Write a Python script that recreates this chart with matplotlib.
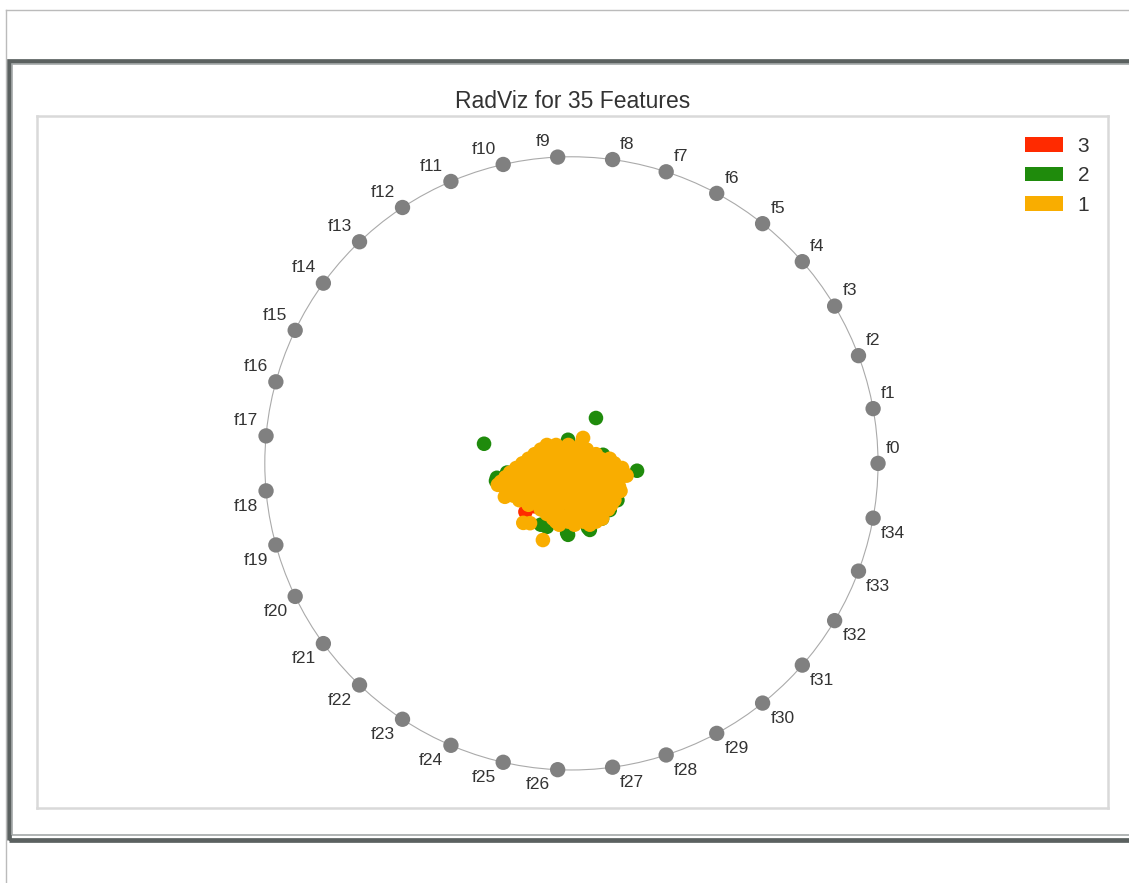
import numpy as np
import matplotlib
matplotlib.use("Agg")
import matplotlib.pyplot as plt
from matplotlib.patches import Circle, Patch, Rectangle
from matplotlib.lines import Line2D

plt.rcParams['font.family'] = ['Liberation Sans', 'DejaVu Sans']

# feature anchors
features = ['f%d' % i for i in range(35)]

# projected points per class (RadViz data coordinates)
class_names = ['3', '2', '1']
class_colors = ['#ff2a00', '#1f8b0c', '#f9ad00']

red_x = [-0.150, -0.047, -0.120, 0.010]
red_y = [-0.158, 0.054, -0.140, -0.100]

green_x = [-0.285, 0.080, 0.214, -0.011, -0.011, 0.054, -0.246, -0.140, -0.210,
           -0.243, 0.125, -0.080, 0.140, 0.103, -0.100, -0.014, 0.060, 0.030,
           -0.050, 0.100, -0.180, 0.150, 0.000]
green_y = [0.064, 0.148, -0.024, 0.077, -0.233, -0.210, -0.057, 0.005, -0.030,
           -0.047, -0.152, -0.207, -0.070, 0.028, -0.200, -0.227, -0.217, 0.040,
           0.020, -0.180, -0.020, -0.120, -0.150]

orange_x = [-0.08, -0.05, -0.01, 0.03,
            -0.12, -0.09, -0.04, 0.00, 0.04, 0.08,
            -0.16, -0.11, -0.06, -0.02, 0.03, 0.07, 0.11, 0.14,
            -0.20, -0.15, -0.10, -0.05, 0.00, 0.05, 0.09, 0.13, 0.17,
            -0.23, -0.18, -0.13, -0.08, -0.03, 0.02, 0.06, 0.10, 0.15,
            -0.21, -0.16, -0.11, -0.06, -0.01, 0.04, 0.08, 0.12, 0.16,
            -0.17, -0.12, -0.07, -0.02, 0.03, 0.07, 0.11, 0.14,
            -0.10, -0.05, 0.00, 0.05, 0.09, 0.12,
            -0.06, -0.02, 0.03, 0.07, 0.10,
            -0.04, 0.01, 0.06,
            -0.093, -0.157, -0.135, 0.038, 0.165, -0.240, -0.217, 0.180,
            -0.10, -0.065, -0.03, 0.01, 0.05,
            -0.14, -0.10, -0.065, -0.025, 0.015, 0.055, 0.095, 0.125,
            -0.18, -0.13, -0.085, -0.035, 0.015, 0.06, 0.10, 0.15,
            -0.215, -0.165, -0.115, -0.065, -0.015, 0.035, 0.08, 0.12, 0.16,
            -0.22, -0.17, -0.12, -0.07, -0.02, 0.03, 0.07, 0.11, 0.155,
            -0.19, -0.14, -0.09, -0.04, 0.01, 0.055, 0.095, 0.14,
            -0.14, -0.09, -0.04, 0.01, 0.055, 0.10, 0.13,
            -0.08, -0.04, 0.01, 0.05, 0.09,
            -0.05, -0.01, 0.04, 0.08]
orange_y = [0.06, 0.06, 0.06, 0.06,
            0.03, 0.03, 0.03, 0.03, 0.03, 0.03,
            0.00, 0.00, 0.00, 0.00, 0.00, 0.00, 0.00, 0.00,
            -0.03, -0.03, -0.03, -0.03, -0.03, -0.03, -0.03, -0.03, -0.03,
            -0.06, -0.06, -0.06, -0.06, -0.06, -0.06, -0.06, -0.06, -0.06,
            -0.09, -0.09, -0.09, -0.09, -0.09, -0.09, -0.09, -0.09, -0.09,
            -0.12, -0.12, -0.12, -0.12, -0.12, -0.12, -0.12, -0.12,
            -0.15, -0.15, -0.15, -0.15, -0.15, -0.15,
            -0.18, -0.18, -0.18, -0.18, -0.18,
            -0.20, -0.20, -0.20,
            -0.250, -0.194, -0.195, 0.083, -0.015, -0.070, -0.109, -0.040,
            0.045, 0.045, 0.045, 0.045, 0.045,
            0.015, 0.015, 0.015, 0.015, 0.015, 0.015, 0.015, 0.015,
            -0.015, -0.015, -0.015, -0.015, -0.015, -0.015, -0.015, -0.015,
            -0.045, -0.045, -0.045, -0.045, -0.045, -0.045, -0.045, -0.045, -0.045,
            -0.075, -0.075, -0.075, -0.075, -0.075, -0.075, -0.075, -0.075, -0.075,
            -0.105, -0.105, -0.105, -0.105, -0.105, -0.105, -0.105, -0.105,
            -0.135, -0.135, -0.135, -0.135, -0.135, -0.135, -0.135,
            -0.165, -0.165, -0.165, -0.165, -0.165,
            -0.19, -0.19, -0.19, -0.19]

W, H = 1129, 883
fig = plt.figure(figsize=(W / 100, H / 100), dpi=100)


def fx(px):
    return px / W


def fy(py):
    return 1 - py / H


# notebook-like frame around the chart
fig.add_artist(Line2D([fx(6), 1], [fy(10), fy(10)], color='#bbbbbb', lw=1))
fig.add_artist(Line2D([fx(6), fx(6)], [0, fy(10)], color='#bbbbbb', lw=1))
fig.add_artist(Rectangle((fx(8.5), fy(839.5)), 1.2, fy(60.5) - fy(839.5), fill=False,
                         edgecolor='#5b6160', lw=3.4))
fig.add_artist(Rectangle((fx(11.5), fy(835)), 1.2, fy(64) - fy(835), fill=False,
                         edgecolor='#a3a8a8', lw=1.2))

ax = fig.add_axes([fx(37), fy(808), fx(1108) - fx(37), fy(116) - fy(808)])
ax.set_xlim(-1.743, 1.750)
ax.set_ylim(-1.124, 1.133)
ax.set_xticks([])
ax.set_yticks([])
for s in ax.spines.values():
    s.set_color('#d9d9d9')
    s.set_linewidth(1.8)

ax.add_patch(Circle((0, 0), 1.0, facecolor='none', edgecolor='#aaaaaa', lw=0.8))

angles = 2 * np.pi * np.arange(len(features)) / len(features)
for a, name in zip(angles, features):
    x, y = np.cos(a), np.sin(a)
    ax.add_patch(Circle((x, y), 0.025, facecolor='#808080', edgecolor='none', zorder=3))
    ha = 'left' if x >= 0 else 'right'
    va = 'bottom' if y >= 0 else 'top'
    dx = 0.025 if x >= 0 else -0.025
    dy = 0.025 if y >= 0 else -0.025
    ax.text(x + dx, y + dy, name, ha=ha, va=va, fontsize=12.5, color='#333333')

xs = [red_x, green_x, orange_x]
ys = [red_y, green_y, orange_y]
for px, py, c in zip(xs, ys, class_colors):
    ax.scatter(px, py, s=110, color=c, edgecolors='none', zorder=4)

ax.set_title('RadViz for 35 Features', fontsize=16.5, color='#333333', pad=6)

handles = [Patch(facecolor=c, edgecolor='none') for c in class_colors]
leg = ax.legend(handles, class_names, loc='upper right', frameon=False,
                fontsize=15, labelspacing=0.5, handlelength=1.85,
                handletextpad=0.7, borderaxespad=0.5,
                bbox_to_anchor=(1.0, 0.997))
for t in leg.get_texts():
    t.set_color('#333333')

fig.savefig('out.png', dpi=100)
